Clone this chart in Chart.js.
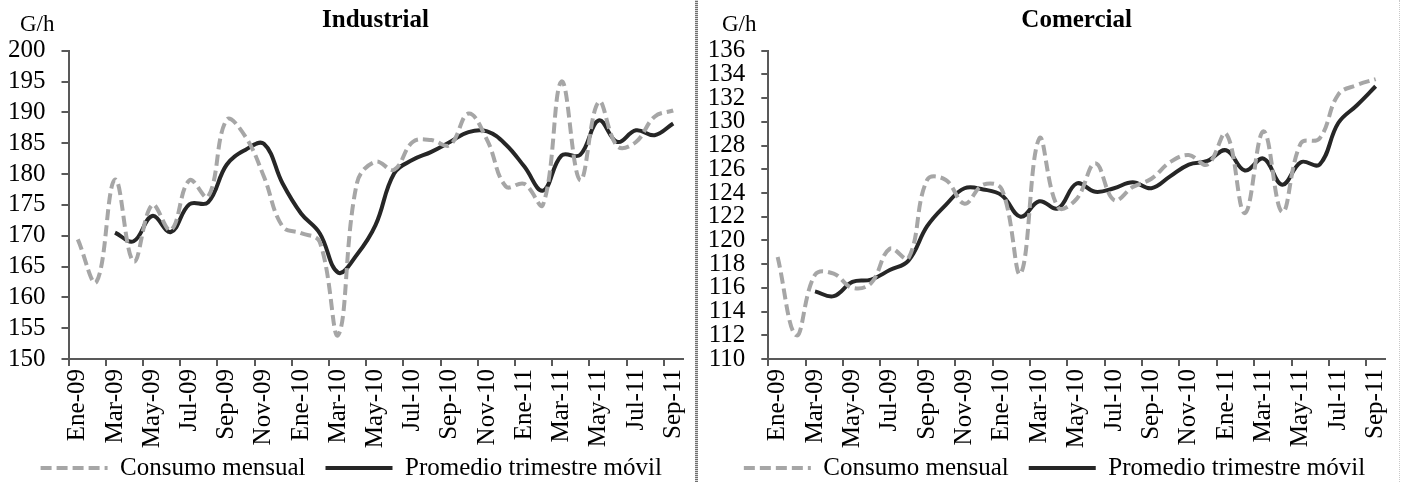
<!DOCTYPE html>
<html>
<head>
<meta charset="utf-8">
<script src="https://cdn.jsdelivr.net/npm/chart.js@4/dist/chart.umd.min.js"></script>
<style>
  html, body { margin: 0; padding: 0; background: #fff; overflow: hidden; }
  #wrap { position: relative; width: 1401px; height: 482px; overflow: hidden; }
  .panel { position: absolute; top: 0; height: 482px; }
  #panel-ind { left: 0; width: 694px; }
  #panel-com { left: 700px; width: 701px; }
  .sep { position: absolute; top: 0; height: 482px; }
  #sep-mid { left: 695px; width: 3px; background: repeating-linear-gradient(0deg, #6f6f6f 0 1px, #d6d6d6 1px 2px); }
  #sep-right { left: 1399px; width: 0; border-left: 1px dotted #c8c8c8; }
</style>
</head>
<body>
<div id="wrap">
  <div class="panel" id="panel-ind"><canvas id="chart-ind"></canvas></div>
  <div class="sep" id="sep-mid"></div>
  <div class="panel" id="panel-com"><canvas id="chart-com"></canvas></div>
  <div class="sep" id="sep-right"></div>
</div>
<script>
// months Ene-09 .. Sep-11 (only every other one is shown on the axis)
const months = ['Ene-09','Feb-09','Mar-09','Abr-09','May-09','Jun-09','Jul-09','Ago-09','Sep-09','Oct-09','Nov-09','Dic-09',
                'Ene-10','Feb-10','Mar-10','Abr-10','May-10','Jun-10','Jul-10','Ago-10','Sep-10','Oct-10','Nov-10','Dic-10',
                'Ene-11','Feb-11','Mar-11','Abr-11','May-11','Jun-11','Jul-11','Ago-11','Sep-11'];

// Industrial (G/h)
const indConsumo = [169.4,162.5,179.1,165.8,175.0,170.9,179.0,176.3,188.8,186.1,179.6,171.5,
                    170.4,169.0,153.9,178.5,182.0,180.7,185.2,185.5,184.7,189.8,185.5,178.0,
                    178.4,175.0,195.0,179.0,191.7,184.5,185.2,189.3,190.3];
const indPromedio = [null,null,170.5,169.1,173.2,170.6,175.1,175.4,181.5,183.9,184.9,178.5,
                     173.6,170.4,164.0,166.9,171.7,180.1,182.3,183.6,185.2,186.8,186.9,184.8,
                     181.2,177.3,183.0,183.1,188.7,185.2,187.1,186.3,188.2];

// Comercial (G/h)
const comConsumo = [118.6,112.0,117.1,117.2,116.0,116.4,119.3,118.5,125.1,125.1,123.1,124.7,
                    124.3,117.2,128.6,122.8,123.5,126.5,123.4,124.5,125.2,126.6,127.2,126.4,
                    129.0,122.3,129.2,122.4,128.2,128.6,132.3,133.1,133.6];
const comPromedio = [null,null,115.7,115.3,116.5,116.7,117.5,118.3,121.2,123.0,124.4,124.3,
                     123.8,122.0,123.3,122.7,124.8,124.1,124.4,124.9,124.4,125.4,126.4,126.7,
                     127.6,125.9,126.9,124.7,126.6,126.4,129.9,131.4,133.0];

(()=>{
    const FONT = '"Times New Roman", "Liberation Serif", serif';
    const axisColor = '#595959';
    Chart.defaults.color = '#000';
    Chart.defaults.font.family = FONT;

    // "G/h" unit label in the top-left corner
    const unitLabel = {
        id: 'unitLabel',
        afterDraw(chart, args, opts) {
            const c = chart.ctx;
            c.save();
            c.font = '23px ' + FONT;
            c.fillStyle = '#000';
            c.textBaseline = 'alphabetic';
            c.fillText('G/h', opts.x, 31);
            c.restore();
        }
    };

    // legend box is kept short so the rotated month labels are not clipped,
    // then its top is moved up so the row sits right under them
    const legendShift = {
        id: 'legendShift',
        afterLayout(chart, args, opts) {
            const lg = chart.legend;
            if (!lg) return;
            lg.top += opts.dy;
            lg.left += opts.dx;
            lg.right += opts.dx;
        }
    };

    // legend samples: same stroke as the series (dash included)
    const legendItems = (chart) => {
        const items = Chart.defaults.plugins.legend.labels.generateLabels(chart);
        return items.map((item) => {
            const ds = chart.data.datasets[item.datasetIndex];
            item.lineDash = ds.borderDash || [];
            item.lineWidth = ds.borderWidth;
            item.strokeStyle = ds.borderColor;
            item.fillStyle = ds.borderColor;
            return item;
        });
    };

    const makeChart = (id, title, consumo, promedio, yMin, yMax, yStep, yWidth, padRight, unitX, legendDx) => {
        return new Chart(document.getElementById(id), {
            type: 'line',
            data: {
                labels: months,
                datasets: [
                    {
                        label: 'Consumo mensual',
                        data: consumo,
                        borderColor: '#a6a6a6',
                        backgroundColor: '#a6a6a6',
                        borderWidth: 4,
                        borderDash: [11, 5],
                        pointRadius: 0,
                        tension: 0.4
                    },
                    {
                        label: 'Promedio trimestre móvil',
                        data: promedio,
                        borderColor: '#262626',
                        backgroundColor: '#262626',
                        borderWidth: 4,
                        pointRadius: 0,
                        tension: 0.4
                    }
                ]
            },
            options: {
                responsive: true,
                maintainAspectRatio: false,
                animation: false,
                layout: { padding: { left: 0, right: padRight, top: 0, bottom: 0 } },
                plugins: {
                    unitLabel: { x: unitX },
                    legendShift: { dy: -21.5, dx: legendDx },
                    tooltip: { enabled: false },
                    title: {
                        display: true,
                        text: title,
                        fullSize: false,
                        color: '#000',
                        font: { size: 25, weight: 'bold', family: FONT },
                        padding: { top: 6, bottom: 14.7 }
                    },
                    legend: {
                        position: 'bottom',
                        maxHeight: 25,
                        labels: {
                            usePointStyle: true,
                            pointStyle: 'line',
                            pointStyleWidth: 67,
                            padding: 20,
                            color: '#000',
                            font: { size: 25, family: FONT },
                            generateLabels: legendItems
                        }
                    }
                },
                scales: {
                    x: {
                        offset: true,
                        border: { display: true, color: axisColor, width: 2 },
                        grid: {
                            offset: true,
                            drawOnChartArea: false,
                            tickLength: 7,
                            lineWidth: 2,
                            color: (ctx) => ctx.index % 2 === 0 ? axisColor : 'rgba(0,0,0,0)'
                        },
                        ticks: {
                            autoSkip: false,
                            maxRotation: 90,
                            minRotation: 90,
                            padding: 3,
                            color: '#000',
                            font: { size: 25, family: FONT },
                            callback: (v, i) => i % 2 === 0 ? months[i] : ''
                        },
                        afterFit: (scale) => {
                            scale.height = 98;
                            scale.paddingLeft = 0;
                            scale.paddingRight = 0;
                        }
                    },
                    y: {
                        min: yMin,
                        max: yMax,
                        border: { display: true, color: axisColor, width: 2 },
                        grid: {
                            drawOnChartArea: false,
                            tickLength: 7,
                            lineWidth: 2,
                            color: axisColor
                        },
                        ticks: {
                            stepSize: yStep,
                            autoSkip: false,
                            padding: 16,
                            color: '#000',
                            font: { size: 25, family: FONT }
                        },
                        afterFit: (scale) => {
                            scale.width = yWidth;
                            scale.paddingTop = 0;
                            scale.paddingBottom = 0;
                        }
                    }
                }
            },
            plugins: [unitLabel, legendShift]
        });
    };

    makeChart('chart-ind', 'Industrial', indConsumo, indPromedio, 150, 200, 5, 68.5, 11.5, 20, 10);
    makeChart('chart-com', 'Comercial', comConsumo, comPromedio, 110, 136, 2, 68.3, 16, 22, 12);
})()
</script>
</body>
</html>
